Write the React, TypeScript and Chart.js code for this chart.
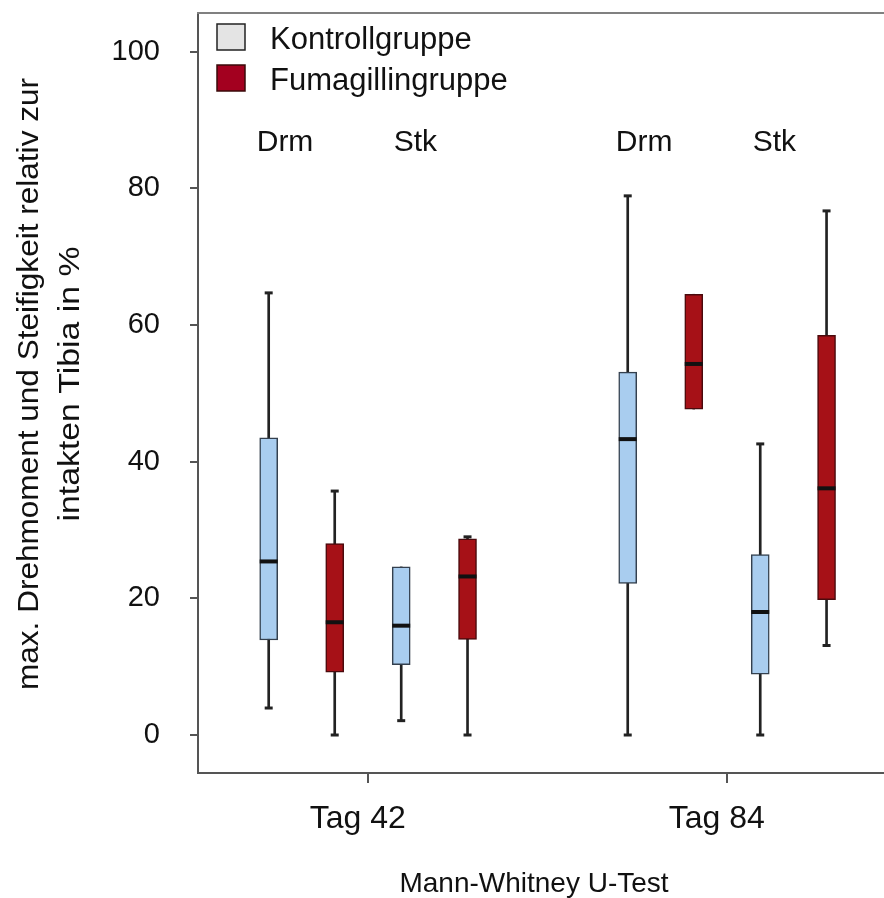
import React, { useEffect, useRef } from 'react';
import { Chart, registerables } from 'chart.js';

Chart.register(...registerables);

// ---- data ----
const CATEGORIES = ['Tag 42', 'Tag 84'];
const MEASURES = ['Drm', 'Stk'];
const SERIES = ['Kontrollgruppe', 'Fumagillingruppe'];
const Y_TICKS = [0, 20, 40, 60, 80, 100];
const X_TITLE = 'Mann-Whitney U-Test';
const Y_TITLE = ['max. Drehmoment und Steifigkeit relativ zur', 'intakten Tibia in %'];

// box order: Tag 42 Drm, Tag 42 Stk, Tag 84 Drm, Tag 84 Stk
const KONTROLL_MIN = [3.95, 2.1, 0, 0];
const KONTROLL_Q1 = [13.9, 10.3, 22.2, 8.9];
const KONTROLL_MEDIAN = [25.4, 16.0, 43.3, 18.0];
const KONTROLL_Q3 = [43.5, 24.6, 53.1, 26.4];
const KONTROLL_MAX = [64.7, 24.6, 78.9, 42.6];

const FUMAGILLIN_MIN = [0, 0, 47.7, 13.1];
const FUMAGILLIN_Q1 = [9.2, 14.0, 47.7, 19.8];
const FUMAGILLIN_MEDIAN = [16.5, 23.2, 54.3, 36.1];
const FUMAGILLIN_Q3 = [28.0, 28.7, 64.5, 58.5];
const FUMAGILLIN_MAX = [35.7, 29.0, 64.5, 76.7];

// ---- layout / style ----
const W = 884;
const H = 898;
const GROUP_POS = [1, 2];
const SLOT_OFFSET = {
  k: [-0.2758, 0.0933],
  f: [-0.0919, 0.278],
};
const X_MIN = 0.5273;
const X_MAX = 2.438;
const Y_MIN = -5.56;
const Y_MAX = 105.66;

const FONT = '"Liberation Sans", Arial, Helvetica, sans-serif';
const K_FILL = '#a9cdef';
const K_BORDER = '#34404e';
const F_FILL = '#a61117';
const F_BORDER = '#4a0a0d';
const LEGEND_K = '#e4e4e4';
const LEGEND_F = '#a3001f';
const INK = '#111111';

function xPos(i: number, key: 'k' | 'f') {
  const g = Math.floor(i / 2);
  const m = i % 2;
  return GROUP_POS[g] + SLOT_OFFSET[key][m];
}

function buildBoxes(key: 'k' | 'f', q1: number[], q3: number[]) {
  return q1.map((v, i) => ({ x: xPos(i, key), y: [v, q3[i]] }));
}
function buildWhiskers(key: 'k' | 'f', mn: number[], mx: number[]) {
  return mn.map((v, i) => ({ x: xPos(i, key), y: [v, mx[i]] }));
}
function buildPoints(key: 'k' | 'f', vals: number[]) {
  return vals.map((v, i) => ({ x: xPos(i, key), y: v }));
}
function buildCaps(key: 'k' | 'f', mn: number[], q1: number[], q3: number[], mx: number[]) {
  const pts: { x: number; y: number }[] = [];
  mn.forEach((v, i) => {
    if (v < q1[i]) pts.push({ x: xPos(i, key), y: v });
    if (mx[i] > q3[i]) pts.push({ x: xPos(i, key), y: mx[i] });
  });
  return pts;
}

function zeroPadding(s: any) {
  s.paddingTop = 0;
  s.paddingBottom = 0;
  s.paddingLeft = 0;
  s.paddingRight = 0;
}

const decorPlugin = {
  id: 'decor',
  afterDraw(chart: any) {
    const ctx = chart.ctx as CanvasRenderingContext2D;
    const area = chart.chartArea;
    const xs = chart.scales.x;
    ctx.save();

    // top frame line
    ctx.strokeStyle = '#808080';
    ctx.lineWidth = 2;
    ctx.beginPath();
    ctx.moveTo(area.left - 1, area.top);
    ctx.lineTo(W, area.top);
    ctx.stroke();

    // legend
    const legendColors = [[LEGEND_K, '#222222'], [LEGEND_F, '#3a0a0a']];
    SERIES.forEach((name, i) => {
      const y0 = 24 + i * 41;
      ctx.fillStyle = legendColors[i][0];
      ctx.fillRect(217, y0, 28, 26);
      ctx.strokeStyle = legendColors[i][1];
      ctx.lineWidth = 1.5;
      ctx.strokeRect(217, y0, 28, 26);
      ctx.fillStyle = INK;
      ctx.font = '31px ' + FONT;
      ctx.textAlign = 'left';
      ctx.textBaseline = 'alphabetic';
      ctx.fillText(name, 270, y0 + 25);
    });

    // measure labels
    ctx.font = '30px ' + FONT;
    ctx.fillStyle = INK;
    ctx.textAlign = 'left';
    GROUP_POS.forEach((g) => {
      const px = xs.getPixelForValue(g);
      ctx.fillText(MEASURES[0], px - 111, 151);
      ctx.fillText(MEASURES[1], px + 26, 151);
    });

    // y title (condensed)
    const yc = 384;
    const lens = [612, 275];
    const bases = [38, 79];
    Y_TITLE.forEach((t, i) => {
      ctx.save();
      ctx.translate(bases[i], yc);
      ctx.rotate(-Math.PI / 2);
      ctx.font = '29px ' + FONT;
      const w = ctx.measureText(t).width;
      ctx.scale(lens[i] / w, 1);
      ctx.textAlign = 'center';
      ctx.textBaseline = 'alphabetic';
      ctx.fillStyle = INK;
      ctx.fillText(t, 0, 0);
      ctx.restore();
    });

    // x title
    ctx.font = '28px ' + FONT;
    ctx.textAlign = 'center';
    ctx.fillStyle = INK;
    ctx.fillText(X_TITLE, 534, 892);

    ctx.restore();
  },
};

export default function App() {
  const ref = useRef<HTMLCanvasElement>(null);

  useEffect(() => {
    if (!ref.current) return;
    const chart = new Chart(ref.current, {
      type: 'bar',
      data: {
        datasets: [
          {
            type: 'bar',
            label: 'whiskers-k',
            data: buildWhiskers('k', KONTROLL_MIN, KONTROLL_MAX),
            backgroundColor: '#222222',
            borderWidth: 0,
            barThickness: 2,
            grouped: false,
            order: 10,
          } as any,
          {
            type: 'bar',
            label: 'whiskers-f',
            data: buildWhiskers('f', FUMAGILLIN_MIN, FUMAGILLIN_MAX),
            backgroundColor: '#222222',
            borderWidth: 0,
            barThickness: 2,
            grouped: false,
            order: 10,
          } as any,
          {
            type: 'bar',
            label: SERIES[0],
            data: buildBoxes('k', KONTROLL_Q1, KONTROLL_Q3),
            backgroundColor: K_FILL,
            borderColor: K_BORDER,
            borderWidth: 1.5,
            borderSkipped: false,
            barThickness: 18,
            grouped: false,
            order: 5,
          } as any,
          {
            type: 'bar',
            label: SERIES[1],
            data: buildBoxes('f', FUMAGILLIN_Q1, FUMAGILLIN_Q3),
            backgroundColor: F_FILL,
            borderColor: F_BORDER,
            borderWidth: 1.5,
            borderSkipped: false,
            barThickness: 18,
            grouped: false,
            order: 5,
          } as any,
          {
            type: 'scatter',
            label: 'median',
            data: [
              ...buildPoints('k', KONTROLL_MEDIAN),
              ...buildPoints('f', FUMAGILLIN_MEDIAN),
            ],
            pointStyle: 'line',
            radius: 9,
            borderWidth: 4,
            borderColor: INK,
            order: 1,
          } as any,
          {
            type: 'scatter',
            label: 'caps',
            data: [
              ...buildCaps('k', KONTROLL_MIN, KONTROLL_Q1, KONTROLL_Q3, KONTROLL_MAX),
              ...buildCaps('f', FUMAGILLIN_MIN, FUMAGILLIN_Q1, FUMAGILLIN_Q3, FUMAGILLIN_MAX),
            ],
            pointStyle: 'line',
            radius: 4,
            borderWidth: 3,
            borderColor: '#222222',
            order: 2,
          } as any,
        ],
      },
      options: {
        responsive: false,
        animation: false,
        layout: { autoPadding: false, padding: { top: 13, left: 0, right: 0, bottom: 0 } },
        plugins: { legend: { display: false }, tooltip: { enabled: false } },
        scales: {
          x: {
            type: 'linear',
            min: X_MIN,
            max: X_MAX,
            offset: false,
            afterBuildTicks: (s: any) => {
              s.ticks = GROUP_POS.map((v) => ({ value: v }));
            },
            afterFit: (s: any) => {
              s.height = H - 773;
              zeroPadding(s);
            },
            grid: { offset: false, drawOnChartArea: false, drawTicks: true, tickLength: 10, color: '#555555', lineWidth: 2 },
            border: { display: true, color: '#555555', width: 2 },
            ticks: {
              autoSkip: false,
              maxRotation: 0,
              padding: 17,
              labelOffset: -10,
              color: INK,
              font: { family: FONT, size: 32 },
              callback: (v: any) => {
                const i = GROUP_POS.indexOf(Number(v));
                return i >= 0 ? CATEGORIES[i] : '';
              },
            },
          },
          y: {
            type: 'linear',
            min: Y_MIN,
            max: Y_MAX,
            afterBuildTicks: (s: any) => {
              s.ticks = Y_TICKS.map((v) => ({ value: v }));
            },
            afterFit: (s: any) => {
              s.width = 198;
              zeroPadding(s);
            },
            grid: { offset: false, drawOnChartArea: false, drawTicks: true, tickLength: 8, color: '#555555', lineWidth: 2 },
            border: { display: true, color: '#555555', width: 2 },
            ticks: {
              padding: 30,
              color: INK,
              font: { family: FONT, size: 29 },
              callback: (v: any) => String(v),
            },
          },
        },
      } as any,
      plugins: [decorPlugin],
    });
    return () => chart.destroy();
  }, []);

  return (
    <div style={{ position: 'fixed', left: 0, top: 0, width: W, height: H, background: '#ffffff', overflow: 'hidden' }}>
      <canvas ref={ref} width={W} height={H} style={{ display: 'block' }} />
    </div>
  );
}
